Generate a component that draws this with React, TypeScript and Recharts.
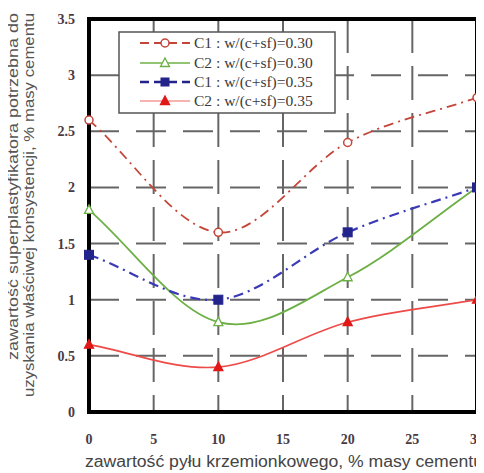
import React from 'react';
import { ComposedChart, Line, XAxis, YAxis, CartesianGrid, ReferenceArea, Customized } from 'recharts';

const xValues = [0, 10, 20, 30];
const c1w030 = [2.6, 1.6, 2.4, 2.8];
const c2w030 = [1.8, 0.8, 1.2, 2.0];
const c1w035 = [1.4, 1.0, 1.6, 2.0];
const c2w035 = [0.6, 0.4, 0.8, 1.0];
const xTicks = [0, 5, 10, 15, 20, 25, 30];
const yTicks = [0, 0.5, 1, 1.5, 2, 2.5, 3, 3.5];
const seriesNames = ['C1 : w/(c+sf)=0.30', 'C2 : w/(c+sf)=0.30', 'C1 : w/(c+sf)=0.35', 'C2 : w/(c+sf)=0.35'];
const xTitle = 'zawartość pyłu krzemionkowego, % masy cementu';
const yTitle1 = 'zawartość superplastyfikatora potrzebna do';
const yTitle2 = 'uzyskania właściwej konsystencji, % masy cementu';

const data = xValues.map((x, i) => ({ x, a: c1w030[i], b: c2w030[i], c: c1w035[i], d: c2w035[i] }));

// Smoothed curve (Excel-like): interior tangents (P[i+1]-P[i-1])/2, end tangents P1-P0
function smoothCurve(context: any) {
  let pts: number[][] = [];
  return {
    areaStart() {},
    areaEnd() {},
    lineStart() { pts = []; },
    lineEnd() {
      const n = pts.length;
      if (!n) return;
      context.moveTo(pts[0][0], pts[0][1]);
      if (n === 2) { context.lineTo(pts[1][0], pts[1][1]); return; }
      const tan = (i: number) => {
        if (i === 0) return [pts[1][0] - pts[0][0], pts[1][1] - pts[0][1]];
        if (i === n - 1) return [pts[n - 1][0] - pts[n - 2][0], pts[n - 1][1] - pts[n - 2][1]];
        return [(pts[i + 1][0] - pts[i - 1][0]) / 2, (pts[i + 1][1] - pts[i - 1][1]) / 2];
      };
      for (let i = 0; i < n - 1; i++) {
        const m0 = tan(i), m1 = tan(i + 1);
        context.bezierCurveTo(
          pts[i][0] + m0[0] / 3, pts[i][1] + m0[1] / 3,
          pts[i + 1][0] - m1[0] / 3, pts[i + 1][1] - m1[1] / 3,
          pts[i + 1][0], pts[i + 1][1]
        );
      }
    },
    point(x: number, y: number) { pts.push([+x, +y]); },
  };
}

const COL_A = '#c4453a';
const COL_B = '#6cb045';
const COL_C = '#3a3ab8';
const COL_C_MARK = '#23238c';
const COL_D = '#ee4a48';
const COL_D_MARK = '#e01818';

const circle = (color: string) => (p: any) => (
  <circle key={p.index} cx={p.cx} cy={p.cy} r={4} fill="#fff" stroke={color} strokeWidth={1.5} />
);
const tri = (color: string, filled: boolean) => (p: any) => (
  <path key={p.index} d={`M${p.cx},${p.cy - 5}L${p.cx + 4.5},${p.cy + 3.5}L${p.cx - 4.5},${p.cy + 3.5}Z`} fill={filled ? color : '#fff'} stroke={color} strokeWidth={1.3} />
);
const square = (color: string) => (p: any) => (
  <rect key={p.index} x={p.cx - 4.5} y={p.cy - 4.5} width={9} height={9} fill={color} stroke={color} />
);

const tickStyle = { fontFamily: '"Liberation Serif", serif', fontWeight: 700, fontSize: 14, fill: '#4a3a44' };

const Extras = () => {
  const lx = 119, ly = 24, lw = 216, lh = 81;
  const rows = [35, 55, 74, 93];
  const textStyle = { fontFamily: '"Liberation Serif", serif', fontSize: 15.5, fill: '#3a3a3a' };
  return (
    <g>
      <rect x={lx} y={ly} width={lw} height={lh} fill="#fff" stroke="#555" strokeWidth={1.5} />
      <line x1={140} x2={190} y1={rows[0]} y2={rows[0]} stroke={COL_A} strokeWidth={2} strokeDasharray="9 5" />
      <circle cx={165} cy={rows[0]} r={4} fill="#fff" stroke={COL_A} strokeWidth={1.5} />
      <text x={194} y={rows[0] + 5} {...textStyle}>{seriesNames[0]}</text>
      <line x1={140} x2={190} y1={rows[1]} y2={rows[1]} stroke={COL_B} strokeWidth={1.5} />
      <path d={`M165,${rows[1] - 5}L169.5,${rows[1] + 3.5}L160.5,${rows[1] + 3.5}Z`} fill="#fff" stroke={COL_B} strokeWidth={1.3} />
      <text x={194} y={rows[1] + 5} {...textStyle}>{seriesNames[1]}</text>
      <line x1={140} x2={190} y1={rows[2]} y2={rows[2]} stroke={COL_C_MARK} strokeWidth={2.5} strokeDasharray="9 5" />
      <rect x={160.5} y={rows[2] - 4.5} width={9} height={9} fill={COL_C_MARK} />
      <text x={194} y={rows[2] + 5} {...textStyle}>{seriesNames[2]}</text>
      <line x1={140} x2={190} y1={rows[3]} y2={rows[3]} stroke="#f59a95" strokeWidth={1.5} />
      <path d={`M165,${rows[3] - 5}L169.5,${rows[3] + 3.5}L160.5,${rows[3] + 3.5}Z`} fill={COL_D_MARK} stroke={COL_D_MARK} strokeWidth={1.3} />
      <text x={194} y={rows[3] + 5} {...textStyle}>{seriesNames[3]}</text>
      <text x={85} y={459} textLength={398} lengthAdjust="spacingAndGlyphs" fontFamily='"Liberation Sans", sans-serif' fontSize={16} fill="#444">{xTitle}</text>
      <text transform="translate(18,352) rotate(-90)" textLength={347} lengthAdjust="spacingAndGlyphs" fontFamily='"Liberation Sans", sans-serif' fontSize={14} fill="#555">{yTitle1}</text>
      <text transform="translate(34,389) rotate(-90)" textLength={384} lengthAdjust="spacingAndGlyphs" fontFamily='"Liberation Sans", sans-serif' fontSize={14} fill="#555">{yTitle2}</text>
    </g>
  );
};

export default function App() {
  return (
    <div style={{ marginLeft: -8, width: 484 }}>
      <ComposedChart width={484} height={465} data={data} margin={{ top: 11, right: 7, bottom: 0, left: 0 }}>
        <CartesianGrid vertical={false} stroke="#666" strokeWidth={2} strokeDasharray="30 17" />
        <CartesianGrid horizontal={false} stroke="#666" strokeWidth={2} strokeDasharray="34 13" />
        <XAxis dataKey="x" type="number" domain={[0, 30]} ticks={xTicks} height={61} axisLine={false} tickLine={false} tickSize={0} tickMargin={22} tick={tickStyle} interval={0} />
        <YAxis type="number" domain={[0, 3.5]} ticks={yTicks} width={89} axisLine={false} tickLine={false} tickSize={0} tickMargin={14} tick={tickStyle} interval={0} />
        <ReferenceArea x1={0} x2={30} y1={0} y2={3.5} fill="none" fillOpacity={0} stroke="#000" strokeWidth={4} ifOverflow="visible" />
        <Line type={smoothCurve as any} dataKey="a" stroke={COL_A} strokeWidth={1.8} strokeDasharray="10 5 2 5" dot={circle(COL_A)} isAnimationActive={false} />
        <Line type={smoothCurve as any} dataKey="b" stroke={COL_B} strokeWidth={1.8} dot={tri(COL_B, false)} isAnimationActive={false} />
        <Line type={smoothCurve as any} dataKey="c" stroke={COL_C} strokeWidth={2.2} strokeDasharray="10 5 2 5" dot={square(COL_C_MARK)} isAnimationActive={false} />
        <Line type={smoothCurve as any} dataKey="d" stroke={COL_D} strokeWidth={1.6} dot={tri(COL_D_MARK, true)} isAnimationActive={false} />
        <Customized component={Extras} />
      </ComposedChart>
    </div>
  );
}
